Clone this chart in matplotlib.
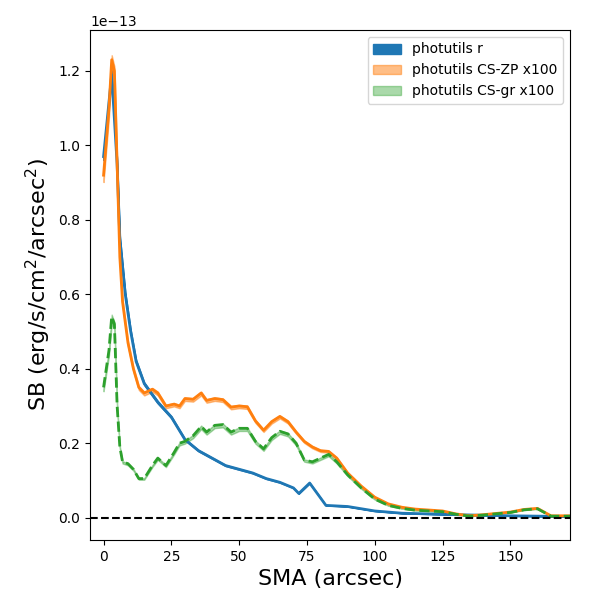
import numpy as np
import matplotlib.pyplot as plt
from matplotlib.ticker import MultipleLocator

sma_r = [0, 3, 5, 6, 8, 10, 12, 15, 20, 25, 30, 35, 40, 45, 50, 55, 60, 65, 70, 72, 76, 82, 90, 100, 110, 130, 150, 172]
sb_r = [0.97, 1.19, 0.95, 0.75, 0.6, 0.5, 0.42, 0.36, 0.31, 0.27, 0.21, 0.18, 0.16, 0.14, 0.13, 0.12, 0.105,
        0.095, 0.08, 0.065, 0.093, 0.033, 0.03, 0.018, 0.012, 0.008, 0.005, 0.003]

sma_c = [0, 2, 3, 4, 5, 6, 7, 9, 11, 13, 15, 18, 20, 23, 26, 28, 30, 33, 36, 38, 41, 44, 47, 50, 53, 56, 59, 62,
         65, 68, 71, 74, 77, 80, 83, 86, 90, 95, 100, 105, 110, 115, 125, 130, 135, 140, 150, 155, 160, 165, 172]
sb_zp = [0.92, 1.1, 1.23, 1.2, 0.95, 0.7, 0.58, 0.47, 0.40, 0.35, 0.335, 0.345, 0.335, 0.30, 0.305, 0.30, 0.32,
         0.318, 0.335, 0.315, 0.32, 0.317, 0.297, 0.30, 0.298, 0.26, 0.235, 0.258, 0.272, 0.258, 0.23, 0.205, 0.19,
         0.18, 0.178, 0.16, 0.12, 0.085, 0.055, 0.037, 0.028, 0.023, 0.018, 0.01, 0.005, 0.008, 0.015, 0.022, 0.025,
         0.005, 0.005]
sb_gr = [0.35, 0.45, 0.54, 0.52, 0.3, 0.19, 0.15, 0.145, 0.13, 0.105, 0.105, 0.14, 0.16, 0.14, 0.175, 0.2, 0.205,
         0.22, 0.245, 0.23, 0.248, 0.25, 0.23, 0.24, 0.24, 0.205, 0.185, 0.215, 0.232, 0.225, 0.2, 0.155, 0.15,
         0.16, 0.17, 0.15, 0.115, 0.08, 0.05, 0.033, 0.025, 0.02, 0.016, 0.009, 0.004, 0.007, 0.014, 0.021, 0.024,
         0.004, 0.004]

scale = 1e-13
r = np.array(sb_r) * scale
zp = np.array(sb_zp) * scale
gr = np.array(sb_gr) * scale

fig, ax = plt.subplots(figsize=(6, 6))
ax.fill_between(sma_r, r * 0.99, r * 1.01, color='C0', label='photutils r')
ax.plot(sma_r, r, color='C0', lw=2)
ax.fill_between(sma_c, zp * 0.98, zp * 1.01, color='C1', alpha=0.5, label='photutils CS-ZP x100')
ax.plot(sma_c, zp, color='C1', lw=2)
ax.fill_between(sma_c, gr * 0.97, gr * 1.01, color='C2', alpha=0.4, label='photutils CS-gr x100')
ax.plot(sma_c, gr, color='C2', lw=2, ls='--')
ax.axhline(0, color='k', ls='--')
ax.set_xlim(-5, 172)
ax.set_ylim(-0.06e-13, 1.31e-13)
ax.xaxis.set_major_locator(MultipleLocator(25))
ax.set_xlabel('SMA (arcsec)', fontsize=16)
ax.set_ylabel('SB (erg/s/cm$^2$/arcsec$^2$)', fontsize=16)
ax.legend(loc='upper right')
fig.subplots_adjust(left=0.15, right=0.95, top=0.95, bottom=0.1)
fig.savefig('out.png', dpi=100)
